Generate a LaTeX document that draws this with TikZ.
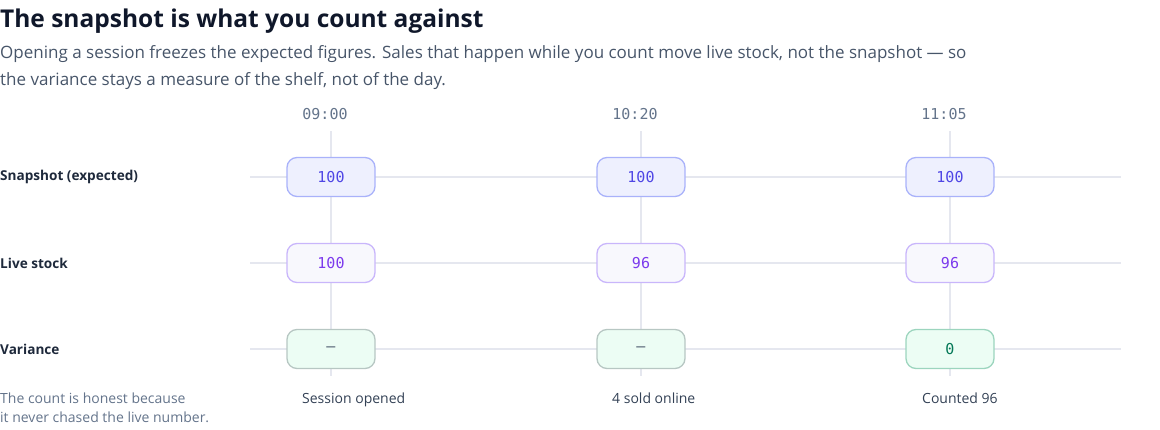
\documentclass[tikz,border=0pt]{standalone}
\usepackage{xcolor}
\usepackage{fontspec}
\setmainfont{Open Sans}
\setmonofont{DejaVu Sans Mono}
\usepackage{tikz}

\definecolor{titel}{HTML}{0F172A}
\definecolor{untertitel}{HTML}{475569}
\definecolor{zeile}{HTML}{1E293B}
\definecolor{gitter}{HTML}{E5E7EF}
\definecolor{zeit}{HTML}{64748B}
\definecolor{snapfill}{HTML}{EEF0FE}
\definecolor{snaprand}{HTML}{A9B2FA}
\definecolor{snaptext}{HTML}{4F46E5}
\definecolor{livefill}{HTML}{F8F8FD}
\definecolor{liverand}{HTML}{C9B6FB}
\definecolor{livetext}{HTML}{7C3AED}
\definecolor{varfill}{HTML}{ECFDF4}
\definecolor{varrand}{HTML}{B7C7C3}
\definecolor{okrand}{HTML}{9CD5BE}
\definecolor{oktext}{HTML}{047857}
\definecolor{fuss}{HTML}{334155}

\begin{document}
\begin{tikzpicture}[x=1pt,y=-1pt,
wert/.style={rectangle, rounded corners=10pt, minimum width=88pt, minimum height=39pt, line width=1.3pt, font=\ttfamily\fontsize{15}{18}\selectfont},
snapwert/.style={wert, draw=snaprand, fill=snapfill, text=snaptext},
livewert/.style={wert, draw=liverand, fill=livefill, text=livetext},
varwert/.style={wert, draw=varrand, fill=varfill, text=untertitel},
okwert/.style={wert, draw=okrand, fill=varfill, text=oktext},
zeilentext/.style={anchor=west, inner sep=0pt, text=zeile, font=\bfseries\fontsize{13.6}{16}\selectfont},
zeittext/.style={anchor=base, inner sep=0pt, text=zeit, font=\ttfamily\fontsize{15}{18}\selectfont},
ereignis/.style={anchor=base west, inner sep=0pt, text=fuss, font=\fontsize{14}{16}\selectfont},
gitterlinie/.style={gitter, line width=1.4pt},
]
\useasboundingbox (0,0) rectangle (1160,430);

\node[anchor=base west, inner sep=0pt, text=titel, font=\bfseries\fontsize{24.5}{29}\selectfont] (titel) at (0,28) {The snapshot is what you count against};
\node[anchor=base west, inner sep=0pt, text=untertitel, font=\fontsize{17}{20}\selectfont] (sub1) at (0,59) {Opening a session freezes the expected figures. Sales that happen while you count move live stock, not the snapshot --- so};
\node[anchor=base west, inner sep=0pt, text=untertitel, font=\fontsize{17}{20}\selectfont] (sub2) at (0,86) {the variance stays a measure of the shelf, not of the day.};

\node[zeittext] (t1) at (325,120) {09:00};
\node[zeittext] (t2) at (635,120) {10:20};
\node[zeittext] (t3) at (944,120) {11:05};

\coordinate (o1) at (331,131);
\coordinate (o2) at (641,131);
\coordinate (o3) at (950,131);
\coordinate (u1) at (331,376);
\coordinate (u2) at (641,376);
\coordinate (u3) at (950,376);
\coordinate (l1) at (250,177);
\coordinate (r1) at (1121,177);
\coordinate (l2) at (250,263);
\coordinate (r2) at (1121,263);
\coordinate (l3) at (250,349);
\coordinate (r3) at (1121,349);

\draw[gitterlinie] (o1) -- (u1);
\draw[gitterlinie] (o2) -- (u2);
\draw[gitterlinie] (o3) -- (u3);
\draw[gitterlinie] (l1) -- (r1);
\draw[gitterlinie] (l2) -- (r2);
\draw[gitterlinie] (l3) -- (r3);

\node[zeilentext] (snapshot) at (0,177) {Snapshot (expected)};
\node[zeilentext] (live) at (0,263) {Live stock};
\node[zeilentext] (variance) at (0,349) {Variance};

\node[snapwert] (s1) at (331,177) {100};
\node[snapwert] (s2) at (641,177) {100};
\node[snapwert] (s3) at (950,177) {100};

\node[livewert] (w1) at (331,263) {100};
\node[livewert] (w2) at (641,263) {96};
\node[livewert] (w3) at (950,263) {96};

\node[varwert] (v1) at (331,349) {–};
\node[varwert] (v2) at (641,349) {–};
\node[okwert] (v3) at (950,349) {0};

\node[ereignis] (e1) at (302,403) {Session opened};
\node[ereignis] (e2) at (612,403) {4 sold online};
\node[ereignis] (e3) at (922,403) {Counted 96};

\node[anchor=base west, inner sep=0pt, text=zeit, font=\fontsize{14}{16}\selectfont] (hinweis1) at (0,403) {The count is honest because};
\node[anchor=base west, inner sep=0pt, text=zeit, font=\fontsize{14}{16}\selectfont] (hinweis2) at (0,422) {it never chased the live number.};

\end{tikzpicture}
\end{document}
